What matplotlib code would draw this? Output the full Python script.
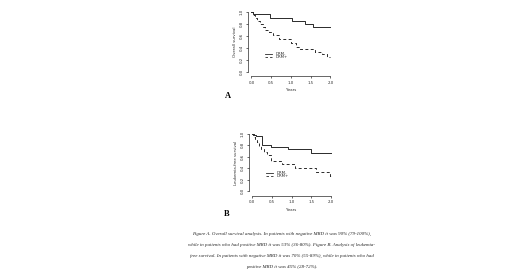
import matplotlib
matplotlib.use("Agg")
import matplotlib.pyplot as plt

# Overall survival (step points: time in years, survival probability)
os_neg_t = [0.0, 0.04, 0.46, 1.02, 1.35, 1.56, 2.0]
os_neg_s = [1.0, 0.97, 0.90, 0.86, 0.80, 0.75, 0.75]
os_pos_t = [0.0, 0.05, 0.10, 0.15, 0.22, 0.28, 0.35, 0.45, 0.55, 0.70, 1.00, 1.12, 1.20, 1.62, 1.78, 1.92, 2.0]
os_pos_s = [1.0, 0.96, 0.91, 0.86, 0.80, 0.75, 0.70, 0.66, 0.61, 0.55, 0.49, 0.42, 0.39, 0.34, 0.29, 0.24, 0.24]

# Leukemia-free survival
lfs_neg_t = [0.0, 0.03, 0.10, 0.25, 0.48, 0.90, 1.50, 2.0]
lfs_neg_s = [1.0, 0.98, 0.96, 0.80, 0.77, 0.73, 0.66, 0.66]
lfs_pos_t = [0.0, 0.04, 0.08, 0.12, 0.17, 0.22, 0.30, 0.38, 0.47, 0.75, 1.08, 1.62, 1.97, 2.0]
lfs_pos_s = [1.0, 0.95, 0.90, 0.85, 0.78, 0.73, 0.68, 0.63, 0.53, 0.48, 0.40, 0.33, 0.27, 0.27]

groups = ["DRM-", "DRM+"]
x_ticks = [0.0, 0.5, 1.0, 1.5, 2.0]
y_ticks = [0.0, 0.2, 0.4, 0.6, 0.8, 1.0]
x_label = "Years"
y_labels = ["Overall survival", "Leukemia-free survival"]
panel_tags = ["A", "B"]
caption = [
    "Figure A. Overall survival analysis. In patients with negative MRD it was 90% (79-100%),",
    "while in patients who had positive MRD it was 53% (36-80%). Figure B. Analysis of leukemia-",
    "free survival. In patients with negative MRD it was 70% (55-89%), while in patients who had",
    "positive MRD it was 45% (28-72%).",
]

W, H = 520, 271
fig = plt.figure(figsize=(W / 100, H / 100), dpi=100)
fig.patch.set_facecolor("white")

ink = "#2a2a2a"
tick_fs = 2.8


def fx(px):
    return px / W


def fy(py):
    return 1 - py / H


panels = [
    dict(rect=(248.3, 9.9, 85.3, 64.2), curves=((os_neg_t, os_neg_s), (os_pos_t, os_pos_s)),
         leg=(0.34, 0.52, 0.29, 0.24), tag=(228, 96)),
    dict(rect=(249.0, 131.4, 85.0, 62.2), curves=((lfs_neg_t, lfs_neg_s), (lfs_pos_t, lfs_pos_s)),
         leg=(0.35, 0.53, 0.32, 0.27), tag=(227, 214)),
]

styles = [dict(ls="-"), dict(ls=(0, (3, 2.5)))]

for i, p in enumerate(panels):
    x0, y0, w, h = p["rect"]
    ax = fig.add_axes([fx(x0), fy(y0 + h), w / W, h / H])
    ax.set_xlim(-0.08, 2.08)
    ax.set_ylim(-0.04, 1.04)
    for (t, s), st in zip(p["curves"], styles):
        ax.step(t, s, where="post", color=ink, lw=0.7, **st)
    for sp in ("top", "right"):
        ax.spines[sp].set_visible(False)
    for sp in ("left", "bottom"):
        ax.spines[sp].set_linewidth(0.5)
        ax.spines[sp].set_color(ink)
    ax.spines["left"].set_bounds(0, 1)
    ax.spines["bottom"].set_bounds(0, 2)
    ax.spines["bottom"].set_position(("outward", 1.5))
    ax.set_xticks(x_ticks)
    ax.set_xticklabels([f"{v:.1f}" for v in x_ticks])
    ax.set_yticks(y_ticks)
    ax.set_yticklabels([f"{v:.1f}" for v in y_ticks], rotation=90, va="center")
    ax.tick_params(axis="both", length=1.5, width=0.5, color=ink, labelsize=tick_fs,
                   labelcolor=ink, pad=1.8)
    ax.set_xlabel(x_label, fontsize=tick_fs, color=ink, labelpad=2.5)
    ax.set_ylabel(y_labels[i], fontsize=tick_fs, color=ink, labelpad=2)
    ax.patch.set_alpha(0)

    lx0, lx1, ly0, ly1 = p["leg"]
    for lab, ly, st in zip(groups, (ly0, ly1), styles):
        ax.plot([lx0, lx1], [ly, ly], color=ink, lw=0.6, **st)
        ax.text(lx1 + 0.08, ly, lab, fontsize=tick_fs, color=ink, va="center", ha="left")

    tx, ty = p["tag"]
    fig.text(fx(tx), fy(ty), panel_tags[i], fontsize=6, fontweight="bold",
             family="Liberation Serif", ha="center", va="center", color="black")

for k, line in enumerate(caption):
    fig.text(fx(282), fy(234 + 11 * k), line, fontsize=3.55, style="italic",
             family="Liberation Serif", ha="center", va="center", color="#222222")

fig.savefig("out.png", dpi=100, facecolor="white")
